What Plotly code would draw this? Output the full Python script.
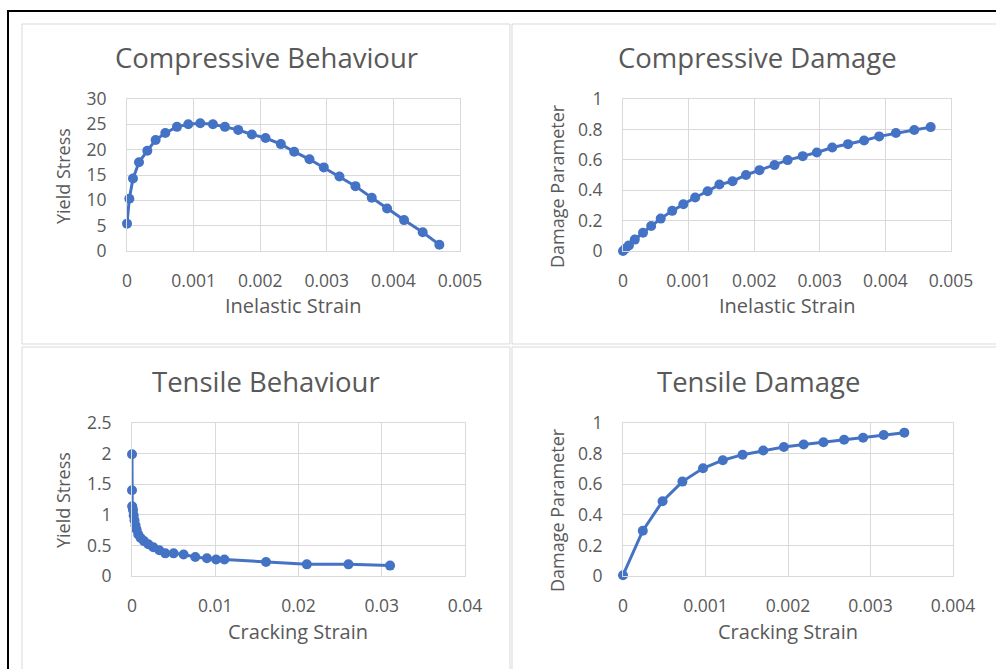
import plotly.graph_objects as go

# ---------------- data ----------------
comp_strain = [0, 0.000035, 0.00009, 0.00018, 0.000305, 0.00043, 0.000575, 0.00075,
               0.00092, 0.0011, 0.00129, 0.00147, 0.00167, 0.001875, 0.00208, 0.00231,
               0.00251, 0.00274, 0.002955, 0.00319, 0.00343, 0.003675, 0.003905,
               0.00416, 0.00444, 0.00469]
comp_stress = [5.4, 10.3, 14.3, 17.5, 19.8, 21.9, 23.3, 24.5, 25.0, 25.2, 25.0, 24.5,
               23.9, 23.0, 22.3, 21.1, 19.6, 18.1, 16.5, 14.7, 12.8, 10.5, 8.4, 6.1,
               3.7, 1.25]
comp_damage = [0, 0.015, 0.037, 0.075, 0.12, 0.165, 0.213, 0.264, 0.308, 0.352, 0.393,
               0.437, 0.459, 0.50, 0.532, 0.565, 0.598, 0.624, 0.648, 0.681, 0.703,
               0.727, 0.754, 0.776, 0.796, 0.815]

tens_strain = [0, 0, 0.00002, 0.00012, 0.0002, 0.0003, 0.00042, 0.00055, 0.00075,
               0.00104, 0.00144, 0.00196, 0.00256, 0.00328, 0.004, 0.005, 0.0062,
               0.0076, 0.009, 0.0101, 0.0111, 0.0161, 0.021, 0.026, 0.031]
tens_stress = [1.99, 1.40, 1.14, 1.08, 0.99, 0.91, 0.83, 0.76, 0.68, 0.62, 0.57, 0.52,
               0.47, 0.42, 0.37, 0.37, 0.35, 0.31, 0.29, 0.27, 0.27, 0.23, 0.19, 0.19,
               0.17]

tdam_strain = [0, 0.00024, 0.00048, 0.00072, 0.00097, 0.00121, 0.00145, 0.0017,
               0.00195, 0.00219, 0.00243, 0.00268, 0.00291, 0.00316, 0.00341]
tdam_damage = [0.005, 0.296, 0.489, 0.617, 0.704, 0.757, 0.793, 0.82, 0.843, 0.859,
               0.874, 0.891, 0.904, 0.922, 0.937]

comp_x_ticks = [0, 0.001, 0.002, 0.003, 0.004, 0.005]
comp_x_labels = ["0", "0.001", "0.002", "0.003", "0.004", "0.005"]
stress_c_ticks = [0, 5, 10, 15, 20, 25, 30]
damage_ticks = [0, 0.2, 0.4, 0.6, 0.8, 1]
damage_labels = ["0", "0.2", "0.4", "0.6", "0.8", "1"]
tens_x_ticks = [0, 0.01, 0.02, 0.03, 0.04]
tens_x_labels = ["0", "0.01", "0.02", "0.03", "0.04"]
stress_t_ticks = [0, 0.5, 1, 1.5, 2, 2.5]
stress_t_labels = ["0", "0.5", "1", "1.5", "2", "2.5"]
tdam_x_ticks = [0, 0.001, 0.002, 0.003, 0.004]
tdam_x_labels = ["0", "0.001", "0.002", "0.003", "0.004"]

titles = ["Compressive Behaviour", "Compressive Damage", "Tensile Behaviour", "Tensile Damage"]
x_titles = ["Inelastic Strain", "Inelastic Strain", "Cracking Strain", "Cracking Strain"]
y_titles = ["Yield Stress", "Damage Parameter", "Yield Stress", "Damage Parameter"]

# ---------------- layout helpers ----------------
W, H = 996, 669
def px(x):
    return x / W
def py(y):
    return 1 - y / H

BLUE = "#4472C4"
GRID = "#d9d9d9"
TXT = "#595959"
FONT = "Open Sans"

fig = go.Figure()

series = [
    (comp_strain, comp_stress),
    (comp_strain, comp_damage),
    (tens_strain, tens_stress),
    (tdam_strain, tdam_damage),
]
for i, (xs, ys) in enumerate(series):
    sfx = "" if i == 0 else str(i + 1)
    fig.add_trace(go.Scatter(
        x=xs, y=ys, mode="lines+markers",
        line=dict(color=BLUE, width=3),
        marker=dict(color=BLUE, size=10),
        xaxis="x" + sfx, yaxis="y" + sfx, showlegend=False, cliponaxis=False))

# plot areas in pixels: (left, right, top, bottom)
areas = [(127, 460, 99, 251), (623, 951, 99, 251), (132, 465, 423, 576), (623, 953, 423, 576)]
xranges = [[0, 0.005], [0, 0.005], [0, 0.04], [0, 0.004]]
yranges = [[0, 30], [0, 1], [0, 2.5], [0, 1]]
xticks = [(comp_x_ticks, comp_x_labels), (comp_x_ticks, comp_x_labels),
          (tens_x_ticks, tens_x_labels), (tdam_x_ticks, tdam_x_labels)]
yticks = [(stress_c_ticks, [str(v) for v in stress_c_ticks]), (damage_ticks, damage_labels),
          (stress_t_ticks, stress_t_labels), (damage_ticks, damage_labels)]

axis_common = dict(showgrid=True, gridcolor=GRID, gridwidth=1, zeroline=False,
                   showline=True, linecolor=GRID, linewidth=1, mirror=True,
                   ticks="outside", tickcolor="rgba(0,0,0,0)", automargin=False,
                   tickfont=dict(family=FONT, size=17.5, color=TXT), fixedrange=True)

layout = dict(width=W, height=H, autosize=False,
              margin=dict(l=0, r=0, t=0, b=0, pad=0, autoexpand=False),
              paper_bgcolor="white", plot_bgcolor="white", showlegend=False)

for i, (l, r, t, b) in enumerate(areas):
    sfx = "" if i == 0 else str(i + 1)
    layout["xaxis" + sfx] = dict(axis_common, domain=[px(l), px(r)], range=xranges[i],
                                 tickvals=xticks[i][0], ticktext=xticks[i][1],
                                 anchor="y" + sfx, ticklen=14)
    layout["yaxis" + sfx] = dict(axis_common, domain=[py(b), py(t)], range=yranges[i],
                                 tickvals=yticks[i][0], ticktext=yticks[i][1],
                                 anchor="x" + sfx, ticklen=16)

fig.update_layout(**layout)

# panel borders
panels = [(22, 510, 24, 344), (512, 1000, 24, 344), (22, 510, 347, 690), (512, 1000, 347, 690)]
for (x0, x1, y0, y1) in panels:
    fig.add_shape(type="rect", xref="paper", yref="paper",
                  x0=px(x0), x1=px(x1), y0=py(y0), y1=py(y1),
                  line=dict(color=GRID, width=1), layer="below")

# outer black frame (left and top)
fig.add_shape(type="path", xref="paper", yref="paper",
              path=f"M {px(8)} {py(690)} L {px(8)} {py(11)} L {px(1000)} {py(11)}",
              line=dict(color="black", width=2))

# titles and axis titles
title_pos = [(266, 58), (757, 58), (266, 382), (758, 382)]
xt_pos = [(293, 305), (787, 305), (298, 631), (788, 631)]
yt_pos = [(63, 176), (557, 186), (63, 500), (557, 510)]
for i in range(4):
    fig.add_annotation(x=px(title_pos[i][0]), y=py(title_pos[i][1]), xref="paper", yref="paper",
                       text=titles[i], showarrow=False, xanchor="center", yanchor="middle",
                       font=dict(family=FONT, size=27.5, color=TXT))
    fig.add_annotation(x=px(xt_pos[i][0]), y=py(xt_pos[i][1]), xref="paper", yref="paper",
                       text=x_titles[i], showarrow=False, xanchor="center", yanchor="middle",
                       font=dict(family=FONT, size=20, color=TXT))
    fig.add_annotation(x=px(yt_pos[i][0]), y=py(yt_pos[i][1]), xref="paper", yref="paper",
                       text=y_titles[i], showarrow=False, xanchor="center", yanchor="middle",
                       textangle=-90, font=dict(family=FONT, size=18, color=TXT))

fig.write_html("out.html", config={"displayModeBar": False},
               post_script="document.body.style.margin='0';document.body.style.overflow='hidden';")
